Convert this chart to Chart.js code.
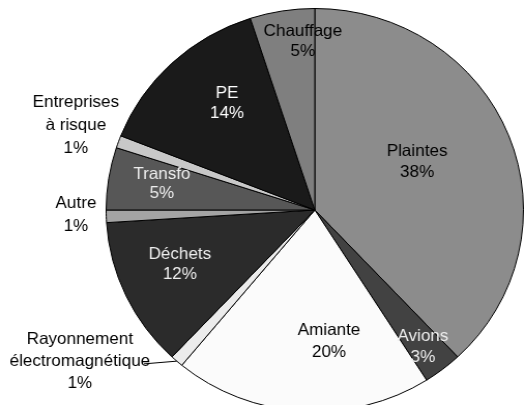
<!DOCTYPE html>
<html>
<head>
<meta charset="utf-8">
<script src="https://cdn.jsdelivr.net/npm/chart.js@4"></script>
<style>
  html, body { margin: 0; padding: 0; background: #fff; overflow: hidden; }
  #wrap { width: 507px; height: 420px; transform: scaleX(1.0355); transform-origin: 0 0; }
</style>
</head>
<body>
<div id="wrap"><canvas id="pieChart" width="507" height="420"></canvas></div>
<script>
// Data
const labels = ['Plaintes', 'Avions', 'Amiante', 'Rayonnement\nélectromagnétique', 'Déchets',
                'Autre', 'Transfo', 'Entreprises\nà risque', 'PE', 'Chauffage'];
const values = [38, 3, 20, 1, 12, 1, 5, 1, 14, 5];

// Styles
const sliceColors = ['#8c8c8c', '#424242', '#fbfbfb', '#ececec', '#2b2b2b',
                     '#a4a4a4', '#575757', '#c8c8c8', '#1a1a1a', '#7f7f7f'];
const textColors = ['#000', '#eee', '#000', '#000', '#eee', '#000', '#eee', '#000', '#fff', '#000'];
// [radius factor, angle shift in degrees, line height, leader line]
const labelPlace = [
    [0.545, -4.3, 21, false],
    [0.855, 0.5, 21, false],
    [0.654, -9.6, 22, false],
    [1.355, 14.8, 22, true],
    [0.70, 2.7, 20, false],
    [1.145, 0.6, 23, false],
    [0.744, 1, 19, false],
    [1.22, 0.4, 23, false],
    [0.677, 4.8, 20, false],
    [0.84, 5.1, 20, false]
];

const total = values.reduce((a, b) => a + b, 0);

const sliceLabels = {
    id: 'sliceLabels',
    afterDatasetsDraw(chart) {
        const ctx = chart.ctx;
        const meta = chart.getDatasetMeta(0);
        ctx.save();
        ctx.font = '16.5px "Liberation Sans", Arial, sans-serif';
        ctx.textAlign = 'center';
        ctx.textBaseline = 'middle';
        meta.data.forEach(function (arc, i) {
            const p = labelPlace[i];
            const mid = (arc.startAngle + arc.endAngle) / 2;
            const a = mid + p[1] * Math.PI / 180;
            const r = arc.outerRadius * p[0];
            const x = arc.x + Math.cos(a) * r;
            const y = arc.y + Math.sin(a) * r;
            const lines = labels[i].split('\n');
            lines.push(Math.round(values[i] / total * 100) + '%');
            const top = y - (lines.length - 1) * p[2] / 2;
            if (p[3]) {
                const ex = arc.x + Math.cos(mid) * arc.outerRadius;
                const ey = arc.y + Math.sin(mid) * arc.outerRadius;
                const w = ctx.measureText(lines[1]).width;
                ctx.strokeStyle = '#000';
                ctx.lineWidth = 1;
                ctx.beginPath();
                ctx.moveTo(x + w / 2 - 6, top + p[2] + 2);
                ctx.lineTo(ex, ey);
                ctx.stroke();
            }
            ctx.fillStyle = textColors[i];
            lines.forEach(function (t, k) {
                ctx.fillText(t, x, top + k * p[2]);
            });
        });
        ctx.restore();
    }
};

new Chart(document.getElementById('pieChart').getContext('2d'), {
    type: 'pie',
    data: {
        labels: labels,
        datasets: [{
            data: values,
            backgroundColor: sliceColors,
            borderColor: '#000',
            borderWidth: 1
        }]
    },
    options: {
        responsive: false,
        animation: false,
        layout: { padding: { left: 102, right: 1, top: 8, bottom: 8 } },
        plugins: {
            legend: { display: false },
            tooltip: { enabled: false }
        }
    },
    plugins: [sliceLabels]
});
</script>
</body>
</html>
